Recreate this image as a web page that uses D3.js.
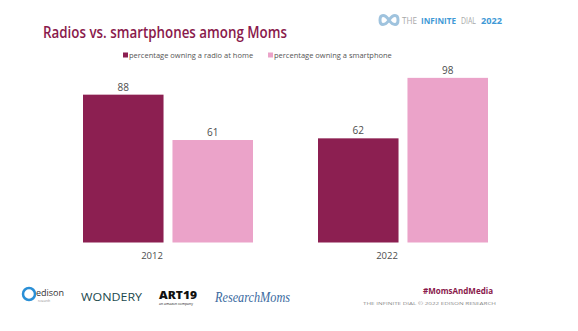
<!DOCTYPE html>
<html>
<head>
<meta charset="utf-8">
<script src="https://cdn.jsdelivr.net/npm/d3@7"></script>
<style>
  body { margin: 0; background: #fff; }
  svg { display: block; font-family: "Open Sans", sans-serif; }
</style>
</head>
<body>
<div id="chart"></div>
<script>
// data
const years = ["2012", "2022"];
const seriesNames = ["percentage owning a radio at home", "percentage owning a smartphone"];
const radioAtHome = [88, 62];
const smartphone = [61, 98];
const colors = ["#8c1f51", "#eba3c9"];

const width = 578, height = 331;
const svg = d3.select("#chart").append("svg")
  .attr("width", width).attr("height", height);

// fit text to a measured width
function fit(sel, w) {
  sel.attr("textLength", w).attr("lengthAdjust", "spacingAndGlyphs");
  return sel;
}

// title
fit(svg.append("text")
  .attr("x", 43).attr("y", 38)
  .attr("font-size", 17).attr("font-weight", 600)
  .attr("fill", "#8a1a4c")
  .text("Radios vs. smartphones among Moms"), 244);

// top right badge
const badge = svg.append("g");
badge.append("path")
  .attr("d", "M389,20 c-4,-6 -9,-6 -9,0 c0,6 5,6 9,0 c4,-6 9,-6 9,0 c0,6 -5,6 -9,0 z")
  .attr("fill", "none").attr("stroke", "#9fc3de").attr("stroke-width", 3);
const badgeWords = [
  { t: "THE", x: 402, w: 15, c: "#a8a8a8", b: 400 },
  { t: "INFINITE", x: 421, w: 35, c: "#3f9ad6", b: 700 },
  { t: "DIAL", x: 461, w: 15, c: "#a8a8a8", b: 400 },
  { t: "2022", x: 481, w: 21, c: "#3f9ad6", b: 700 }
];
badgeWords.forEach(d => {
  fit(badge.append("text").attr("x", d.x).attr("y", 24).attr("font-size", 9.5)
    .attr("fill", d.c).attr("font-weight", d.b).text(d.t), d.w);
});

// legend
const legendX = [123, 268];
seriesNames.forEach((name, i) => {
  svg.append("rect").attr("x", legendX[i]).attr("y", 52.5).attr("width", 5).attr("height", 5).attr("fill", colors[i]);
  svg.append("text").attr("x", legendX[i] + 6).attr("y", 58)
    .attr("font-size", 7.5).attr("fill", "#555")
    .text(name);
});

// scales
const x0 = d3.scaleBand().domain(years).range([50, 520]).paddingInner(0).paddingOuter(0);
const x1 = d3.scaleBand().domain([0, 1]).range([33, 203]).paddingInner(0.1);
const y = d3.scaleLinear().domain([0, 100]).range([242.5, 74.5]);

const rows = years.map((yr, i) => ({ year: yr, vals: [radioAtHome[i], smartphone[i]] }));

const g = svg.selectAll(".grp").data(rows).enter().append("g")
  .attr("transform", d => `translate(${x0(d.year)},0)`);

g.selectAll("rect").data(d => d.vals).enter().append("rect")
  .attr("x", (d, i) => x1(i))
  .attr("width", x1.bandwidth())
  .attr("y", d => y(d))
  .attr("height", d => y(0) - y(d))
  .attr("fill", (d, i) => colors[i]);

g.selectAll(".val").data(d => d.vals).enter().append("text")
  .attr("class", "val")
  .attr("x", (d, i) => x1(i) + x1.bandwidth() / 2)
  .attr("y", d => y(d) - 4)
  .attr("text-anchor", "middle")
  .attr("font-size", 10).attr("fill", "#4d4d4d")
  .text(d => d);

// year labels (sit a bit left of the group centre in the original)
g.append("text")
  .attr("x", 102).attr("y", 259)
  .attr("text-anchor", "middle")
  .attr("font-size", 9.5).attr("fill", "#4d4d4d")
  .text(d => d.year);

// footer logos (text approximations)
const foot = svg.append("g");
foot.append("circle").attr("cx", 29).attr("cy", 294).attr("r", 6)
  .attr("fill", "none").attr("stroke", "#2a8fd6").attr("stroke-width", 2.5);
foot.append("text").attr("x", 36).attr("y", 296).attr("font-size", 9).attr("fill", "#333").text("edison");
foot.append("text").attr("x", 38).attr("y", 302).attr("font-size", 3).attr("fill", "#888").text("research");
fit(foot.append("text").attr("x", 81).attr("y", 301).attr("font-size", 11).attr("fill", "#1c4a4e")
  .attr("font-weight", 500).text("WONDERY"), 61);
fit(foot.append("text").attr("x", 159).attr("y", 299).attr("font-size", 10).attr("font-weight", 800)
  .attr("fill", "#111").text("ART19"), 38);
foot.append("text").attr("x", 159).attr("y", 305).attr("font-size", 3.5).attr("fill", "#111").text("an amazon company");
fit(foot.append("text").attr("x", 215).attr("y", 302).attr("font-size", 15).attr("font-style", "italic")
  .attr("font-family", "Liberation Serif, serif").attr("fill", "#3b6aa0")
  .text("ResearchMoms"), 75);

fit(svg.append("text").attr("x", 493).attr("y", 294).attr("text-anchor", "end")
  .attr("font-size", 8).attr("font-weight", 700).attr("fill", "#8a1a4c").text("#MomsAndMedia"), 70);
fit(svg.append("text").attr("x", 496).attr("y", 304.5).attr("text-anchor", "end")
  .attr("font-size", 4).attr("fill", "#888").text("THE INFINITE DIAL    © 2022 EDISON RESEARCH"), 133);
</script>
</body>
</html>
